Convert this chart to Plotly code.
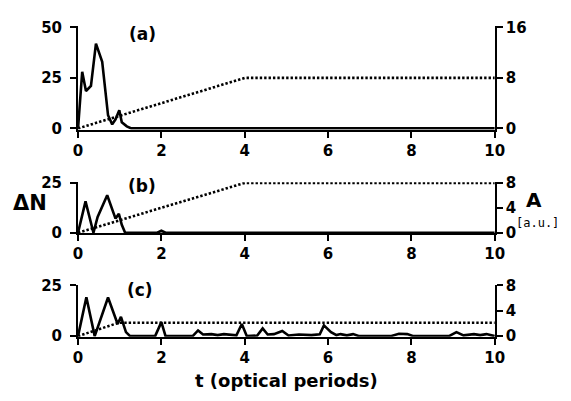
import plotly.graph_objects as go

# ---- data ----
t_a = [0, 0.1, 0.19, 0.31, 0.43, 0.58, 0.72, 0.82, 0.9, 0.99, 1.05, 1.17, 1.28, 10]
dn_a = [0, 28, 18.5, 21, 42, 33, 6.5, 2, 4.5, 9, 3, 1, 0, 0]

t_b = [0, 0.18, 0.37, 0.47, 0.70, 0.90, 0.98, 1.05, 1.13, 1.9, 2.0, 2.1, 10]
dn_b = [0, 15.7, 0, 7.9, 18.8, 7.1, 9.5, 4, 0, 0, 1, 0, 0]

t_c = [0, 0.2, 0.4, 0.5, 0.72, 0.95, 1.03, 1.15, 1.25, 1.85, 2.0, 2.1, 2.75, 2.88, 3.0,
       3.2, 3.35, 3.5, 3.65, 3.8, 3.93, 4.05, 4.3, 4.43, 4.55, 4.7, 4.9, 5.05, 5.3,
       5.6, 5.8, 5.9, 6.07, 6.2, 6.3, 6.45, 6.6, 6.75, 7.5, 7.7, 7.9, 8.05, 8.9,
       9.08, 9.25, 9.5, 9.65, 9.8, 10]
dn_c = [0, 19.1, 0, 6, 19, 6, 9.5, 2, 0, 0, 6.9, 0, 0, 2.8, 0.8,
        1, 0.5, 1, 0.7, 0.4, 6, 0, 0.3, 3.8, 0.8, 1, 2.5, 0.3, 0.8,
        0.5, 0.9, 5.3, 2, 0.5, 1, 0.4, 1, 0, 0, 1.2, 1, 0, 0,
        2, 0.4, 1, 0.5, 1, 0]

t_amp = [0, 4, 10]
amp_ab = [0, 8, 8]
t_amp_c = [0, 0.97, 10]
amp_c = [0, 2.1, 2.1]

x_ticks = [0, 2, 4, 6, 8, 10]

W, H = 571, 401
FONT = "DejaVu Sans"


def px(x):
    return x / W


def py(y):
    return 1 - y / H


x_dom = [px(75), px(503)]
# (top pixel, bottom pixel) for each panel
panels = [(19, 127), (182, 235.3), (289, 343.3)]

fig = go.Figure()

line_style = dict(color="black", width=2.6)
dot_style = dict(color="black", width=2.6, dash="2.4px,2px")

fig.add_trace(go.Scatter(x=t_a, y=dn_a, mode="lines", line=line_style, xaxis="x", yaxis="y"))
fig.add_trace(go.Scatter(x=t_amp, y=amp_ab, mode="lines", line=dot_style, xaxis="x", yaxis="y2"))
fig.add_trace(go.Scatter(x=t_b, y=dn_b, mode="lines", line=line_style, xaxis="x2", yaxis="y3"))
fig.add_trace(go.Scatter(x=t_amp, y=amp_ab, mode="lines", line=dot_style, xaxis="x2", yaxis="y4"))
fig.add_trace(go.Scatter(x=t_c, y=dn_c, mode="lines", line=line_style, xaxis="x3", yaxis="y5"))
fig.add_trace(go.Scatter(x=t_amp_c, y=amp_c, mode="lines", line=dot_style, xaxis="x3", yaxis="y6"))

tickfont = dict(family=FONT, size=15, color="black", weight="bold")

common_x = dict(range=[0, 10], tickvals=x_ticks, showgrid=False, zeroline=False,
                showline=True, linecolor="black", linewidth=2, ticks="outside",
                ticklen=6, tickwidth=2, tickcolor="black", tickfont=tickfont)
common_y = dict(showgrid=False, zeroline=False, showline=True, linecolor="black",
                linewidth=2, ticks="outside", ticklen=6, tickwidth=2,
                tickcolor="black", tickfont=tickfont)

pad = 0.012
left_ticks = [[0, 25, 50], [0, 25], [0, 25]]
left_max = [50, 25, 25]
right_ticks = [[0, 8, 16], [0, 4, 8], [0, 4, 8]]
right_max = [16, 8, 8]

layout = dict(width=W, height=H, margin=dict(l=0, r=0, t=0, b=0),
              plot_bgcolor="white", paper_bgcolor="white", showlegend=False)

for i, (top, bot) in enumerate(panels):
    xa = "xaxis" if i == 0 else f"xaxis{i+1}"
    xn = "x" if i == 0 else f"x{i+1}"
    yl_n = 2 * i + 1
    yr_n = 2 * i + 2
    yl = "yaxis" if yl_n == 1 else f"yaxis{yl_n}"
    yr = f"yaxis{yr_n}"
    yl_ref = "y" if yl_n == 1 else f"y{yl_n}"
    dom = [py(bot), py(top)]
    layout[xa] = dict(common_x, domain=x_dom, anchor=yl_ref)
    lm = left_max[i]
    rm = right_max[i]
    layout[yl] = dict(common_y, domain=dom, anchor=xn, range=[-pad * lm, lm * (1 + pad)],
                      tickvals=left_ticks[i], side="left", ticklabelstandoff=5)
    layout[yr] = dict(common_y, anchor=xn, overlaying=yl_ref, side="right",
                      range=[-pad * rm, rm * (1 + pad)], tickvals=right_ticks[i])

fig.update_layout(**layout)

ann_font = dict(family=FONT, size=17, color="black", weight="bold")
labels = [("(a)", 141, 27), ("(b)", 141, 186), ("(c)", 139, 294)]
for txt, x, y in labels:
    fig.add_annotation(text=txt, x=px(x), y=py(y), xref="paper", yref="paper",
                       showarrow=False, font=ann_font, xanchor="center", yanchor="middle")

fig.add_annotation(text="ΔN", x=px(26), y=py(204), xref="paper", yref="paper",
                   showarrow=False, font=dict(family=FONT, size=21, color="black", weight="bold"),
                   xanchor="center", yanchor="middle")
fig.add_annotation(text="A", x=px(543), y=py(201), xref="paper", yref="paper",
                   showarrow=False, font=dict(family=FONT, size=20, color="black", weight="bold"),
                   xanchor="center", yanchor="middle")
fig.add_annotation(text="[a.u.]", x=px(570), y=py(224), xref="paper", yref="paper",
                   showarrow=False, font=dict(family="DejaVu Sans Mono", size=12, color="black"),
                   xanchor="right", yanchor="middle", borderpad=0)
fig.add_annotation(text="t (optical periods)", x=px(289), y=py(389), xref="paper", yref="paper",
                   showarrow=False, font=dict(family=FONT, size=18, color="black", weight="bold"),
                   xanchor="center", yanchor="middle")

fig.write_html("out.html")
